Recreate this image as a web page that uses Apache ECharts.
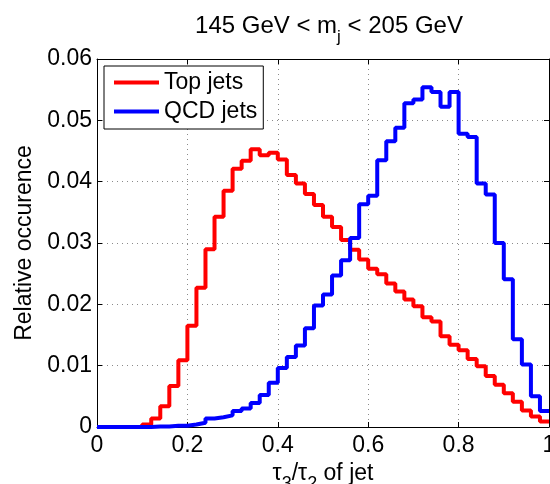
<!DOCTYPE html>
<html>
<head>
<meta charset="utf-8">
<script src="https://cdn.jsdelivr.net/npm/echarts@6/dist/echarts.min.js"></script>
<style>
  html, body { margin: 0; padding: 0; background: #fff; }
  #chart { width: 550px; height: 484px; }
</style>
</head>
<body>
<div id="chart"></div>
<script>
// bin edges of the tau3/tau2 histogram (50 bins)
let binEdges = [0, 0.02, 0.04, 0.06, 0.08, 0.10, 0.12, 0.14, 0.16, 0.18,
  0.20, 0.22, 0.24, 0.26, 0.28, 0.30, 0.32, 0.34, 0.36, 0.38,
  0.40, 0.42, 0.44, 0.46, 0.48, 0.50, 0.52, 0.54, 0.56, 0.58,
  0.60, 0.62, 0.64, 0.66, 0.68, 0.70, 0.72, 0.74, 0.76, 0.78,
  0.80, 0.82, 0.84, 0.86, 0.88, 0.90, 0.92, 0.94, 0.96, 0.98, 1.00];

let topJets = [0, 0, 0, 0, 0, 0.0004, 0.0014, 0.0034, 0.0067, 0.0109,
  0.0165, 0.0227, 0.0290, 0.0343, 0.0385, 0.0421, 0.0434, 0.0453, 0.0443, 0.0447,
  0.0436, 0.0411, 0.0397, 0.0380, 0.0362, 0.0343, 0.0326, 0.0305, 0.0289, 0.0273,
  0.0258, 0.0249, 0.0234, 0.0221, 0.0208, 0.0197, 0.0179, 0.0172, 0.0148, 0.0134,
  0.0125, 0.0111, 0.0099, 0.0083, 0.0069, 0.0055, 0.0041, 0.0027, 0.0017, 0.0009];

let qcdJets = [0, 0, 0, 0, 0, 0, 0.0001, 0.0001, 0.0002, 0.0002,
  0.0004, 0.0007, 0.0014, 0.0016, 0.0019, 0.0026, 0.0030, 0.0039, 0.0052, 0.0072,
  0.0096, 0.0114, 0.0133, 0.0161, 0.0198, 0.0216, 0.0247, 0.0272, 0.0308, 0.0363,
  0.0377, 0.0435, 0.0466, 0.0488, 0.0528, 0.0534, 0.0554, 0.0546, 0.0522, 0.0546,
  0.0478, 0.0473, 0.0397, 0.0379, 0.0300, 0.0241, 0.0143, 0.0102, 0.0050, 0.0026];

let seriesNames = ['Top jets', 'QCD jets'];
let seriesColors = ['#ff0000', '#0000ff'];

let font = 'Liberation Sans, Arial, Helvetica, sans-serif';

function stairs(vals) {
  let pts = [];
  for (let i = 0; i < vals.length; i++) {
    pts.push([binEdges[i], vals[i]]);
  }
  // close the last bin at the right edge
  pts.push([binEdges[vals.length], vals[vals.length - 1]]);
  return pts;
}

let chart = echarts.init(document.getElementById('chart'));

let dotted = { show: true, lineStyle: { color: '#8a8a8a', type: [1, 4], width: 1 } };
let boxLine = { show: true, onZero: false, lineStyle: { color: '#000', width: 1 } };
let inTick = { show: true, inside: true, length: 5, lineStyle: { color: '#000' } };

chart.setOption({
  animation: false,
  backgroundColor: '#fff',
  textStyle: { fontFamily: font, color: '#000' },
  title: {
    text: '145 GeV < m{sub|j} < 205 GeV',
    left: 324,
    textAlign: 'center',
    top: 2,
    textStyle: {
      fontFamily: font, fontSize: 24, fontWeight: 'normal', color: '#000',
      rich: {
        sub: { fontFamily: font, fontSize: 17, color: '#000', padding: [22, 0, 0, 0] }
      }
    }
  },
  legend: {
    data: seriesNames,
    orient: 'vertical',
    left: 104,
    top: 66,
    icon: 'rect',
    itemWidth: 45,
    itemHeight: 4,
    itemGap: 6,
    padding: [5, 6, 6, 10],
    borderColor: '#000',
    borderWidth: 1,
    backgroundColor: '#fff',
    selectedMode: false,
    textStyle: { fontFamily: font, fontSize: 23, color: '#000' }
  },
  grid: { left: 97, top: 59, width: 452, height: 368, outerBoundsMode: 'none', containLabel: false },
  xAxis: [{
    type: 'value',
    min: 0, max: 1, interval: 0.2,
    position: 'bottom',
    name: 'τ{sub|3}/τ{sub|2} of jet',
    nameLocation: 'middle',
    nameGap: 23,
    nameTextStyle: {
      fontFamily: font, fontSize: 23, color: '#000',
      rich: { sub: { fontFamily: font, fontSize: 18, color: '#000', padding: [22, 0, 0, 0] } }
    },
    axisLine: boxLine,
    axisTick: inTick,
    axisLabel: { fontFamily: font, fontSize: 23, color: '#000', margin: 7 },
    splitLine: dotted
  }, {
    type: 'value',
    min: 0, max: 1, interval: 0.2,
    position: 'top',
    axisLine: boxLine,
    axisTick: inTick,
    axisLabel: { show: false },
    splitLine: { show: false }
  }],
  yAxis: [{
    type: 'value',
    min: 0, max: 0.06, interval: 0.01,
    position: 'left',
    name: 'Relative occurence',
    nameLocation: 'middle',
    nameGap: 59,
    nameTextStyle: { fontFamily: font, fontSize: 23, color: '#000' },
    axisLine: boxLine,
    axisTick: inTick,
    axisLabel: {
      fontFamily: font, fontSize: 23, color: '#000', margin: 5,
      formatter: function (v) { return v === 0 ? '0' : v.toFixed(2); }
    },
    splitLine: dotted
  }, {
    type: 'value',
    min: 0, max: 0.06, interval: 0.01,
    position: 'right',
    axisLine: boxLine,
    axisTick: inTick,
    axisLabel: { show: false },
    splitLine: { show: false }
  }],
  series: [{
    name: seriesNames[0],
    type: 'line',
    step: 'end',
    xAxisIndex: 0, yAxisIndex: 0,
    data: stairs(topJets),
    showSymbol: false,
    clip: false,
    color: seriesColors[0],
    lineStyle: { color: seriesColors[0], width: 4 }
  }, {
    name: seriesNames[1],
    type: 'line',
    step: 'end',
    xAxisIndex: 0, yAxisIndex: 0,
    data: stairs(qcdJets),
    showSymbol: false,
    clip: false,
    color: seriesColors[1],
    lineStyle: { color: seriesColors[1], width: 4 }
  }]
});
</script>
</body>
</html>
